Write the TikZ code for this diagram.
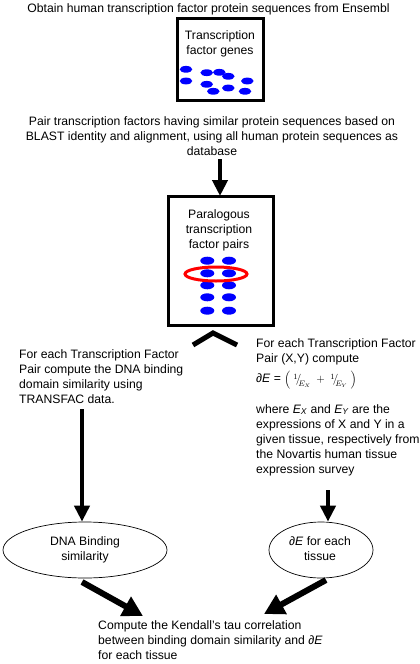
\documentclass[tikz,border=0pt]{standalone}
\usepackage{fontspec}
\setmainfont{Liberation Sans}
\usetikzlibrary{arrows.meta,shapes.geometric}
\newcommand\bfrac[2]{\raisebox{0.55ex}{$\scriptstyle #1$}\mkern-3mu\big/\mkern-5mu\raisebox{-0.7ex}{$\scriptstyle #2$}}
\begin{document}
\begin{tikzpicture}[x=1pt,y=-1pt,
  txt/.style={inner sep=0pt, font=\fontsize{12.2}{15}\selectfont},
  box/.style={draw, line width=3pt},
  blob/.style={fill=blue},
  oval/.style={draw, line width=0.7pt, ellipse, inner sep=0pt},
  vArrow/.style={line width=4pt, -{Triangle[width=15pt,length=16pt]}},
  dArrow/.style={line width=6pt, -{Triangle[width=21pt,length=20pt]}}]
\useasboundingbox (0,0) rectangle (420,664);
% title
\node[txt] (title) at (208.5,9) {Obtain human transcription factor protein sequences from Ensembl};
% box 1
\draw[box] (177,18) rectangle (263,100);
\node[txt, align=center] (tfg) at (220,43.5) {Transcription\\factor genes};
\foreach \x/\y in {186/69.3,186/81,206.7/72.7,219.3/72.3,228.3/76.3,206.7/84.3,213.3/91.3,228.3/88,247.3/81,245/91.3}
  \fill[blob] (\x,\y) ellipse [x radius=6.3pt, y radius=3.4pt];
% paragraph 2
\node[txt, align=center] (pair) at (212,136) {Pair transcription factors having similar protein sequences based on\\BLAST identity and alignment, using all human protein sequences as\\database};
\coordinate (a1s) at (220,159);
\coordinate (a1e) at (220,196);
\draw[vArrow] (a1s) -- (a1e);
% box 2
\draw[box] (168,196) rectangle (273,325);
\node[txt, align=center] (para) at (219,230) {Paralogous\\transcription\\factor pairs};
\foreach \y in {260.7,273.3,285.3,297.3,310.7}{
  \fill[blob] (207.3,\y) ellipse [x radius=7pt, y radius=4pt];
  \fill[blob] (229,\y) ellipse [x radius=7pt, y radius=4pt];
}
\draw[red, line width=3pt] (216,274) ellipse [x radius=31pt, y radius=7pt];
% chevron
\coordinate (chL) at (193,345);
\coordinate (chT) at (213,333);
\coordinate (chR) at (237,345);
\draw[line width=5pt] (chL) -- (chT) -- (chR);
% left text
\node[txt, align=left, anchor=west] (ltxt) at (19,377) {For each Transcription Factor\\Pair compute the DNA binding\\domain similarity using\\TRANSFAC data.};
% right text
\node[txt, align=left, anchor=west] (rtxt1) at (256,352) {For each Transcription Factor\\Pair (X,Y) compute};
\node[txt, anchor=west] (form) at (256,380) {\textit{∂E} = {\fontsize{11}{13}\selectfont$\left(\;\bfrac{1}{E_X}\;+\;\bfrac{1}{E_Y}\;\right)$}};
\node[txt, align=left, anchor=west] (rtxt2) at (256,440) {where \textit{E\textsubscript{X}} and \textit{E\textsubscript{Y}} are the\\expressions of X and Y in a\\given tissue, respectively from\\the Novartis human tissue\\expression survey};
% ellipses
\node[oval, minimum width=164pt, minimum height=56pt] (dna) at (85,550) {};
\node[txt, align=center] (dnat) at (85,550) {DNA Binding\\similarity};
\node[oval, minimum width=104pt, minimum height=56pt] (dE) at (321,550) {};
\node[txt, align=center] (dEt) at (320,549) {\textit{∂E} for each\\tissue};
% vertical arrows
\coordinate (a2s) at (82,409);
\draw[vArrow] (a2s) -- (a2s |- dna.north);
\coordinate (a3s) at (328,490);
\draw[vArrow] (a3s) -- (a3s |- dE.north);
% compute text
\node[txt, align=left, anchor=west] (comp) at (98,640) {Compute the Kendall's tau correlation\\between binding domain similarity and \textit{∂E}\\for each tissue};
\coordinate (tipL) at (143,616);
\coordinate (tipR) at (264,614);
\coordinate (stL) at (82,582);
\coordinate (stR) at (326,580);
\draw[dArrow] (stL) -- (tipL);
\draw[dArrow] (stR) -- (tipR);
\end{tikzpicture}
\end{document}
